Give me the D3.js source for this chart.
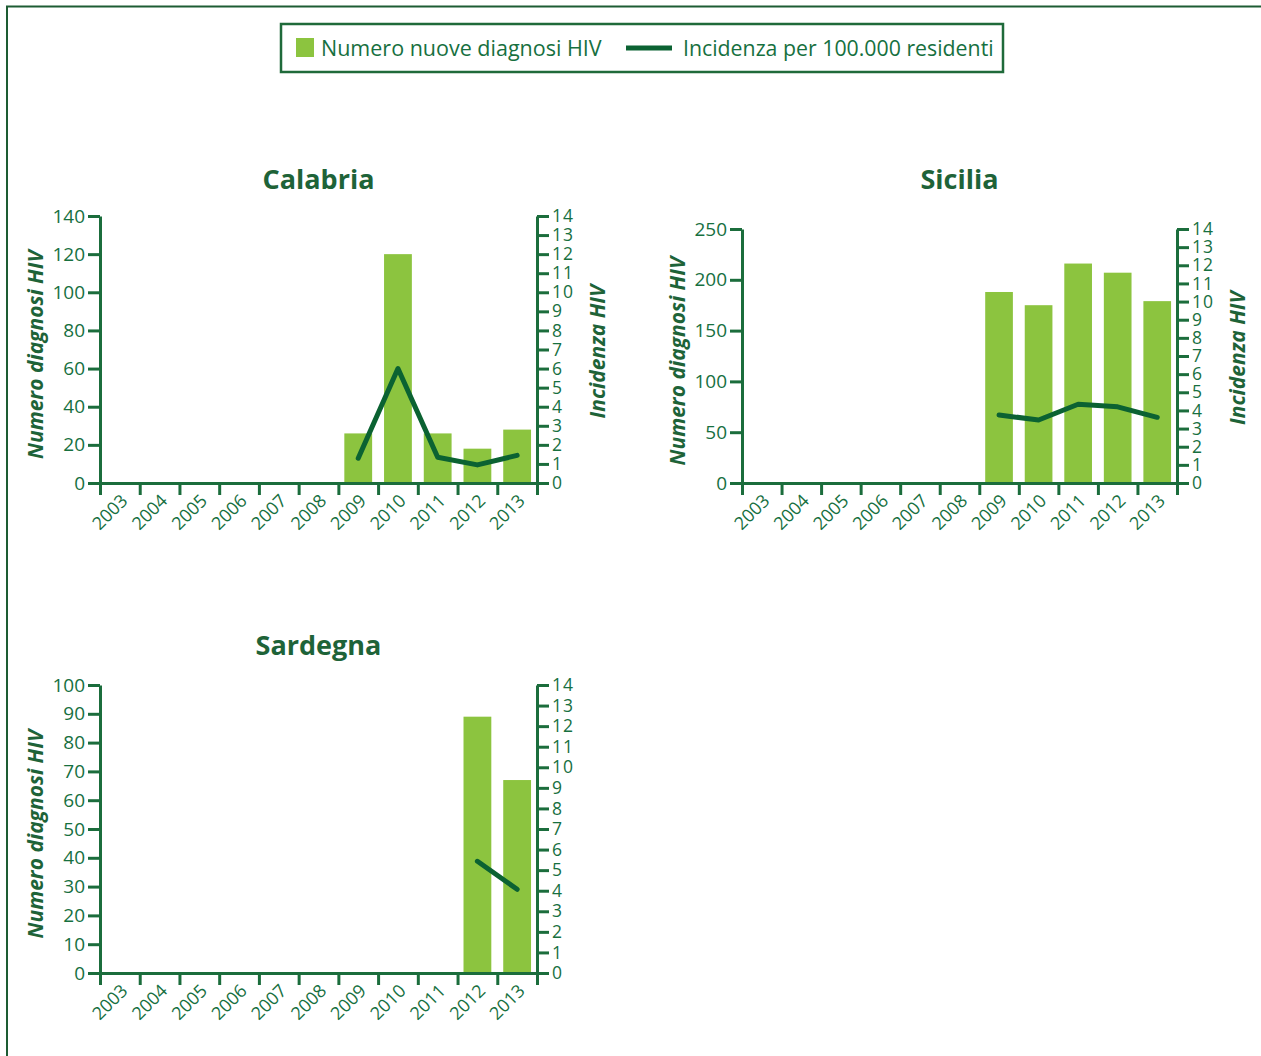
<!DOCTYPE html>
<html>
<head>
<meta charset="utf-8">
<script src="https://cdn.jsdelivr.net/npm/d3@7"></script>
<style>
  body { margin: 0; background: #fff; }
  svg { display: block; font-family: 'Open Sans', 'Noto Sans', sans-serif; }
</style>
</head>
<body>
<script>
// Data
const years = ['2003', '2004', '2005', '2006', '2007', '2008', '2009', '2010', '2011', '2012', '2013'];

const calabriaCases = [null, null, null, null, null, null, 26, 120, 26, 18, 28];
const calabriaIncidence = [null, null, null, null, null, null, 1.3, 6.0, 1.35, 0.95, 1.45];

const siciliaCases = [null, null, null, null, null, null, 188, 175, 216, 207, 179];
const siciliaIncidence = [null, null, null, null, null, null, 3.75, 3.47, 4.34, 4.2, 3.62];

const sardegnaCases = [null, null, null, null, null, null, null, null, null, 89, 67];
const sardegnaIncidence = [null, null, null, null, null, null, null, null, null, 5.43, 4.07];

const calabriaTicks = [0, 20, 40, 60, 80, 100, 120, 140];
const siciliaTicks = [0, 50, 100, 150, 200, 250];
const sardegnaTicks = [0, 10, 20, 30, 40, 50, 60, 70, 80, 90, 100];
const incidenceTicks = [0, 1, 2, 3, 4, 5, 6, 7, 8, 9, 10, 11, 12, 13, 14];

const legendLabels = ['Numero nuove diagnosi HIV', 'Incidenza per 100.000 residenti'];
const leftLabel = 'Numero diagnosi HIV';
const rightLabel = 'Incidenza HIV';

// Colours
const barColor = '#8cc43f';
const lineColor = '#0b6232';
const axisColor = '#1b6d3c';
const textColor = '#17703f';
const titleColor = '#1e6338';

const svg = d3.select('body')
  .append('svg')
  .attr('width', 1261)
  .attr('height', 1056);

// Outer frame (top and left edges)
svg.append('path')
  .attr('d', 'M7,1056 V6.5 H1261')
  .attr('fill', 'none')
  .attr('stroke', '#1d5c33')
  .attr('stroke-width', 2);

// Legend
const legend = svg.append('g').attr('id', 'legend');
legend.append('rect')
  .attr('x', 281).attr('y', 24)
  .attr('width', 722).attr('height', 48)
  .attr('fill', 'none')
  .attr('stroke', '#1f6a3a')
  .attr('stroke-width', 2.5);
legend.append('rect')
  .attr('x', 296).attr('y', 38)
  .attr('width', 18).attr('height', 19)
  .attr('fill', barColor);
legend.append('text')
  .attr('x', 321).attr('y', 56)
  .attr('fill', textColor)
  .style('font-size', '21.5px')
  .text(legendLabels[0]);
legend.append('line')
  .attr('x1', 626).attr('x2', 672)
  .attr('y1', 48).attr('y2', 48)
  .attr('stroke', lineColor)
  .attr('stroke-width', 5);
legend.append('text')
  .attr('x', 683).attr('y', 56)
  .attr('fill', textColor)
  .style('font-size', '21.3px')
  .text(legendLabels[1]);

function drawPanel(opts) {
  const { title, cases, incidence, leftTicks, x0, x1, yTop, yBottom, titleY, showRightLabel } = opts;

  const g = svg.append('g');

  const xBand = d3.scaleBand()
    .domain(years)
    .range([x0, x1])
    .paddingInner(0.3)
    .paddingOuter(0.15);

  const xEdge = d3.scaleLinear()
    .domain([0, years.length])
    .range([x0, x1]);

  const yLeft = d3.scaleLinear()
    .domain([0, d3.max(leftTicks)])
    .range([yBottom, yTop]);

  const yRight = d3.scaleLinear()
    .domain([0, 14])
    .range([yBottom, yTop]);

  // Bars
  const rows = years.map((yr, i) => ({ year: yr, cases: cases[i], inc: incidence[i] }));

  g.selectAll('.bar')
    .data(rows.filter(d => d.cases !== null))
    .enter()
    .append('rect')
    .attr('class', 'bar')
    .attr('x', d => xBand(d.year))
    .attr('width', xBand.bandwidth())
    .attr('y', d => yLeft(d.cases))
    .attr('height', d => yBottom - yLeft(d.cases))
    .attr('fill', barColor);

  // Line
  const line = d3.line()
    .defined(d => d.inc !== null)
    .x(d => xBand(d.year) + xBand.bandwidth() / 2)
    .y(d => yRight(d.inc));

  g.append('path')
    .datum(rows)
    .attr('d', line)
    .attr('fill', 'none')
    .attr('stroke', lineColor)
    .attr('stroke-width', 5)
    .attr('stroke-linecap', 'round')
    .attr('stroke-linejoin', 'round');

  // Left axis
  const leftAxis = d3.axisLeft(yLeft)
    .tickValues(leftTicks)
    .tickSize(12)
    .tickSizeOuter(0)
    .tickPadding(3);
  const gl = g.append('g')
    .attr('transform', `translate(${x0}, 0)`)
    .call(leftAxis);

  // Right axis
  const rightAxis = d3.axisRight(yRight)
    .tickValues(incidenceTicks)
    .tickSize(12)
    .tickSizeOuter(0)
    .tickPadding(3);
  const gr = g.append('g')
    .attr('transform', `translate(${x1}, 0)`)
    .call(rightAxis);

  // Bottom axis: ticks at band edges
  const bottomAxis = d3.axisBottom(xEdge)
    .tickValues(d3.range(years.length + 1))
    .tickFormat('')
    .tickSize(12)
    .tickSizeOuter(0);
  const gb = g.append('g')
    .attr('transform', `translate(0, ${yBottom})`)
    .call(bottomAxis);

  [gl, gr, gb].forEach((ax) => {
    ax.select('.domain').attr('stroke', axisColor).attr('stroke-width', 3);
    ax.selectAll('.tick line').attr('stroke', axisColor).attr('stroke-width', 3);
    ax.selectAll('.tick text')
      .attr('fill', textColor)
      .style('font-size', '19px')
      .style('font-family', "'Open Sans', sans-serif");
  });
  gr.selectAll('.tick text').style('letter-spacing', '1px').style('font-size', '17.5px');

  // Year labels
  g.selectAll('.year')
    .data(years)
    .enter()
    .append('text')
    .attr('class', 'year')
    .attr('transform', d => `translate(${xBand(d) + xBand.bandwidth() / 2 + 9}, ${yBottom + 19}) rotate(-45)`)
    .attr('text-anchor', 'end')
    .attr('fill', textColor)
    .style('font-size', '18px')
    .text(d => d);

  // Title
  g.append('text')
    .attr('x', (x0 + x1) / 2)
    .attr('y', titleY)
    .attr('text-anchor', 'middle')
    .attr('fill', titleColor)
    .style('font-size', '27px')
    .style('font-weight', 'bold')
    .text(title);

  // Left axis title
  g.append('text')
    .attr('transform', `translate(${x0 - 57}, ${(yTop + yBottom) / 2 + 5}) rotate(-90)`)
    .attr('text-anchor', 'middle')
    .attr('fill', titleColor)
    .style('font-size', '21px')
    .style('font-weight', 'bold')
    .style('font-style', 'italic')
    .text(leftLabel);

  if (showRightLabel) {
    g.append('text')
      .attr('transform', `translate(${x1 + 68}, ${(yTop + yBottom) / 2 + 2}) rotate(-90)`)
      .attr('text-anchor', 'middle')
      .attr('fill', titleColor)
      .style('font-size', '21px')
      .style('font-weight', 'bold')
      .style('font-style', 'italic')
      .text(rightLabel);
  }
}

drawPanel({
  title: 'Calabria', cases: calabriaCases, incidence: calabriaIncidence, leftTicks: calabriaTicks,
  x0: 100, x1: 537, yTop: 216, yBottom: 483, titleY: 189, showRightLabel: true,
});

drawPanel({
  title: 'Sicilia', cases: siciliaCases, incidence: siciliaIncidence, leftTicks: siciliaTicks,
  x0: 742, x1: 1177, yTop: 229, yBottom: 483, titleY: 189, showRightLabel: true,
});

drawPanel({
  title: 'Sardegna', cases: sardegnaCases, incidence: sardegnaIncidence, leftTicks: sardegnaTicks,
  x0: 100, x1: 537, yTop: 685, yBottom: 973, titleY: 655, showRightLabel: false,
});
</script>
</body>
</html>
